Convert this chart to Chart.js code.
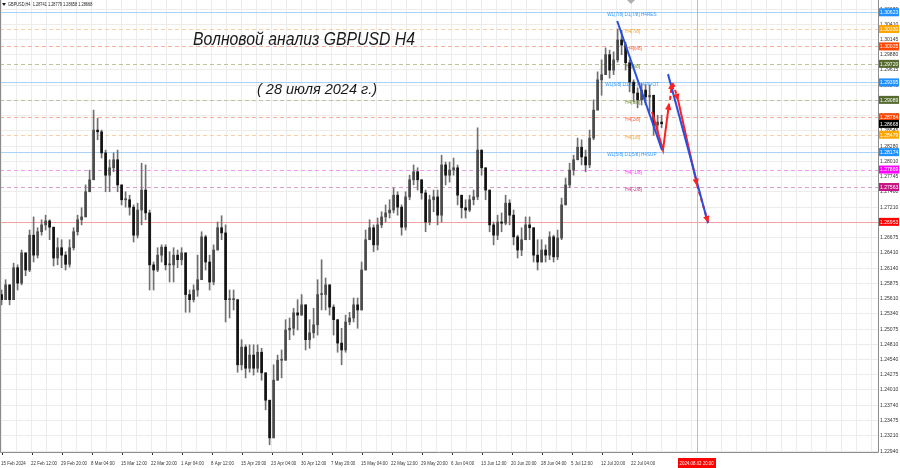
<!DOCTYPE html>
<html>
<head>
<meta charset="utf-8">
<script src="https://cdn.jsdelivr.net/npm/chart.js@4.4.1/dist/chart.umd.min.js"></script>
<style>
  html, body { margin: 0; padding: 0; background: #fff; }
</style>
</head>
<body>
<canvas id="chart" width="900" height="468"></canvas>
<script>
// GBPUSD H4, one candle per ~4 H4 bars
const closes = [1.2559,1.2585,1.2559,1.2615,1.2588,1.2641,1.2611,1.2672,1.2637,1.2678,1.2690,1.2697,1.2686,1.2632,1.2650,1.2637,1.2621,1.2650,1.2678,1.2699,
  1.2704,1.2748,1.2769,1.2856,1.2853,1.2816,1.2777,1.2790,1.2804,1.2760,1.2734,1.2734,1.2721,1.2672,1.2716,1.2751,1.2711,1.2620,1.2611,1.2637,
  1.2651,1.2620,1.2620,1.2637,1.2629,1.2641,1.2568,1.2559,1.2576,1.2594,1.2669,1.2625,1.2590,1.2646,1.2685,1.2676,1.2559,1.2559,1.2559,1.2445,
  1.2476,1.2439,1.2462,1.2439,1.2467,1.2431,1.2383,1.2317,1.2418,1.2453,1.2453,1.2506,1.2509,1.2536,1.2532,1.2550,1.2489,1.2501,1.2515,1.2568,
  1.2568,1.2585,1.2546,1.2524,1.2483,1.2471,1.2520,1.2527,1.2550,1.2541,1.2611,1.2664,1.2685,1.2655,1.2690,1.2704,1.2711,1.2716,1.2742,1.2721,
  1.2686,1.2739,1.2769,1.2783,1.2769,1.2746,1.2695,1.2734,1.2739,1.2707,1.2795,1.2777,1.2786,1.2790,1.2742,1.2720,1.2716,1.2734,1.2739,1.2821,
  1.2790,1.2751,1.2690,1.2672,1.2695,1.2693,1.2728,1.2707,1.2669,1.2646,1.2664,1.2690,1.2685,1.2637,1.2625,1.2646,1.2637,1.2669,1.2634,1.2667,
  1.2725,1.2760,1.2786,1.2804,1.2826,1.2809,1.2795,1.2842,1.2891,1.2944,1.2953,1.2988,1.2961,1.2979,1.3014,1.3005,1.2974,1.2940,1.2921,1.2909,
  1.2926,1.2914,1.2917,1.2865,1.2870,1.2867];
const highs = [1.2576,1.2594,1.2585,1.2623,1.2620,1.2646,1.2637,1.2681,1.2704,1.2685,1.2699,1.2707,1.2699,1.2685,1.2667,1.2664,1.2643,1.2664,1.2685,1.2707,
  1.2720,1.2760,1.2786,1.2891,1.2877,1.2856,1.2821,1.2804,1.2816,1.2821,1.2760,1.2748,1.2742,1.2725,1.2728,1.2798,1.2795,1.2716,1.2625,1.2650,
  1.2655,1.2655,1.2643,1.2650,1.2646,1.2650,1.2637,1.2576,1.2585,1.2637,1.2678,1.2672,1.2637,1.2655,1.2695,1.2706,1.2690,1.2576,1.2576,1.2559,
  1.2489,1.2480,1.2480,1.2480,1.2480,1.2474,1.2427,1.2375,1.2445,1.2462,1.2471,1.2524,1.2527,1.2544,1.2559,1.2568,1.2550,1.2524,1.2544,1.2594,
  1.2629,1.2597,1.2585,1.2550,1.2524,1.2509,1.2532,1.2537,1.2562,1.2562,1.2625,1.2681,1.2699,1.2690,1.2702,1.2713,1.2725,1.2734,1.2755,1.2748,
  1.2725,1.2748,1.2777,1.2795,1.2790,1.2769,1.2751,1.2742,1.2751,1.2751,1.2812,1.2800,1.2800,1.2807,1.2795,1.2742,1.2734,1.2742,1.2751,1.2860,
  1.2821,1.2790,1.2742,1.2695,1.2707,1.2711,1.2742,1.2734,1.2716,1.2672,1.2685,1.2704,1.2704,1.2678,1.2664,1.2664,1.2655,1.2678,1.2672,1.2681,
  1.2737,1.2772,1.2798,1.2812,1.2842,1.2839,1.2821,1.2856,1.2909,1.2958,1.2979,1.3000,1.2996,1.2993,1.3033,1.3031,1.3010,1.2979,1.2944,1.2930,
  1.2937,1.2935,1.2935,1.2909,1.2882,1.2882];
const lows = [1.2550,1.2572,1.2550,1.2568,1.2576,1.2585,1.2601,1.2608,1.2625,1.2632,1.2672,1.2681,1.2664,1.2618,1.2620,1.2615,1.2611,1.2616,1.2646,1.2672,
  1.2690,1.2707,1.2748,1.2804,1.2839,1.2807,1.2748,1.2748,1.2783,1.2748,1.2725,1.2721,1.2707,1.2660,1.2667,1.2690,1.2699,1.2576,1.2576,1.2608,
  1.2625,1.2611,1.2590,1.2590,1.2615,1.2620,1.2537,1.2537,1.2555,1.2565,1.2637,1.2611,1.2576,1.2585,1.2646,1.2664,1.2520,1.2527,1.2541,1.2432,
  1.2436,1.2422,1.2432,1.2427,1.2432,1.2418,1.2366,1.2305,1.2331,1.2427,1.2422,1.2457,1.2489,1.2497,1.2506,1.2532,1.2471,1.2474,1.2492,1.2497,
  1.2541,1.2541,1.2532,1.2497,1.2467,1.2445,1.2467,1.2515,1.2520,1.2509,1.2572,1.2615,1.2664,1.2643,1.2646,1.2685,1.2695,1.2702,1.2711,1.2707,
  1.2672,1.2681,1.2734,1.2760,1.2751,1.2735,1.2678,1.2690,1.2713,1.2690,1.2695,1.2760,1.2765,1.2777,1.2725,1.2702,1.2702,1.2713,1.2725,1.2734,
  1.2777,1.2734,1.2678,1.2655,1.2664,1.2678,1.2690,1.2690,1.2655,1.2632,1.2636,1.2664,1.2664,1.2625,1.2611,1.2625,1.2625,1.2629,1.2625,1.2629,
  1.2664,1.2725,1.2755,1.2777,1.2804,1.2795,1.2783,1.2790,1.2839,1.2900,1.2917,1.2953,1.2947,1.2953,1.2975,1.2988,1.2961,1.2923,1.2905,1.2895,
  1.2900,1.2900,1.2888,1.2847,1.2853,1.2860];
const firstOpen = 1.2568;

// right price scale
const yTicks = [1.30680,1.30410,1.30145,1.29880,1.29615,1.29345,1.29080,1.28815,1.28545,1.28280,1.28010,1.27745,1.27480,1.27210,1.26945,
  1.26675,1.26410,1.26140,1.25875,1.25610,1.25340,1.25075,1.24810,1.24540,1.24275,1.24010,1.23740,1.23475,1.23210,1.22940];
// time labels, one every 7.5 candles
const dateLabels = ['15 Feb 2024','22 Feb 12:00','29 Feb 20:00','8 Mar 04:00','15 Mar 12:00','22 Mar 20:00','1 Apr 04:00','8 Apr 12:00',
  '15 Apr 20:00','23 Apr 04:00','30 Apr 12:00','7 May 20:00','15 May 04:00','22 May 12:00','29 May 20:00','6 Jun 04:00','13 Jun 12:00',
  '20 Jun 20:00','28 Jun 04:00','5 Jul 12:00','12 Jul 20:00','22 Jul 04:00'];

// murrey / pivot levels
const levelPrices = [1.30623,1.30330,1.30025,1.29720,1.29395,1.29089,1.28784,1.28479,1.28174,1.27869,1.27563,1.26953];
const levelNames = ['W1[7/8] D1[7/8] H4RES','H4[7/8]','H4[6/8]','H4[5/8]','W1[6/8] D1[6/8] H4PIVOT','H4[3/8]','H4[2/8]','H4[1/8]',
  'W1[5/8] D1[5/8] H4SUP','H4[-1/8]','H4[-2/8]',''];
const lastPrice = 1.28668;
const headerText = 'GBPUSD,H4  1.28741 1.28779 1.28658 1.28668';

// forecast drawing, [candle, price]
const blueWave1 = [[153.9,1.3047],[165.1,1.2821]];
const blueWave2 = [[166.6,1.2954],[176.6,1.2693]];
const redWaveA = [[162.6,1.2888],[165.35,1.2821],[166.85,1.2902]];
const redWaveB = [[167.1,1.2909],[167.6,1.2938]];
const redWaveC = [[167.85,1.2938],[169.1,1.2909]];
const redWaveD = [[169.1,1.2909],[173.85,1.2760]];
const redWaveE = [[173.85,1.2760],[176.6,1.2695]];
const targetTime = 173.85;
const targetLabel = '2024.08.02 20:00';

// styles
const levelLine = ['#a9d2f8','#f9cfa5','#f7b09a','#c2c29a','#a9d2f8','#c2c29a','#f7b09a','#f9cfa5','#a9d2f8','#f39af3','#dba0c6','#f5a0a0'];
const levelDash = [false,true,true,true,false,true,true,true,false,true,true,false];
const levelText = ['#3399ff','#f5a030','#ff6040','#6b8e23','#3399ff','#6b8e23','#ff6040','#f5a030','#3399ff','#ff33ff','#c0308a',''];
const levelBox = ['#1e90ff','#ffa500','#ff4500','#556b2f','#1e90ff','#556b2f','#ff4500','#ffa500','#1e90ff','#ff00ff','#c71585','#ff0000'];
const levelTextX = [151.4,155.9,156.3,155.9,150.9,155.9,155.9,155.9,151.4,155.9,155.9,0];

const opens = closes.map((c, i) => i === 0 ? firstOpen : closes[i - 1]);
const wickData = closes.map((c, i) => ({x: i, y: [Math.min(lows[i], opens[i], c), Math.max(highs[i], opens[i], c)]}));
const bodyData = closes.map((c, i) => ({x: i, y: [opens[i], c]}));
const bodyColors = closes.map((c, i) => c >= opens[i] ? '#4a4a4a' : '#111111');

const pts = arr => arr.map(p => ({x: p[0], y: p[1]}));
const wave = (arr, color, dashed) => ({
  type: 'line', data: pts(arr), borderColor: color, borderWidth: 2, pointRadius: 0,
  borderDash: dashed ? [4, 3] : [], order: -1, tension: 0
});

const FONT = '"Liberation Sans", Arial, sans-serif';

// draw text squeezed horizontally by sx
const squeeze = (ctx, txt, px, py, sx) => {
  ctx.save(); ctx.translate(px, py); ctx.scale(sx, 1); ctx.fillText(txt, 0, 0); ctx.restore();
};

const mt4 = {
  id: 'mt4',
  beforeDatasetsDraw(chart) {
    const {ctx, chartArea: a, scales: {x, y}} = chart;
    ctx.save();
    levelPrices.forEach((p, i) => {
      const py = Math.round(y.getPixelForValue(p)) + 0.5;
      ctx.strokeStyle = levelLine[i];
      ctx.lineWidth = 1;
      ctx.setLineDash(levelDash[i] ? [4, 3] : []);
      ctx.beginPath(); ctx.moveTo(a.left, py); ctx.lineTo(a.right, py); ctx.stroke();
    });
    ctx.setLineDash([]);
    const tx = Math.round(x.getPixelForValue(targetTime)) + 0.5;
    ctx.strokeStyle = '#f7a3a3';
    ctx.beginPath(); ctx.moveTo(tx, a.top); ctx.lineTo(tx, a.bottom); ctx.stroke();
    ctx.font = '5.5px ' + FONT;
    ctx.textBaseline = 'middle';
    ctx.textAlign = 'left';
    levelNames.forEach((n, i) => {
      if (!n) return;
      ctx.fillStyle = levelText[i];
      squeeze(ctx, n, x.getPixelForValue(levelTextX[i]), y.getPixelForValue(levelPrices[i]) + 2.5, 0.85);
    });
    ctx.restore();
  },
  afterDatasetsDraw(chart) {
    const {ctx, scales: {x, y}} = chart;
    ctx.save();
    ctx.fillStyle = '#ff2020';
    [redWaveA, redWaveB, redWaveC, redWaveD, redWaveE].forEach(w => {
      const p1 = w[w.length - 2], p2 = w[w.length - 1];
      const x1 = x.getPixelForValue(p1[0]), y1 = y.getPixelForValue(p1[1]);
      const x2 = x.getPixelForValue(p2[0]), y2 = y.getPixelForValue(p2[1]);
      const ang = Math.atan2(y2 - y1, x2 - x1);
      ctx.save();
      ctx.translate(x2, y2); ctx.rotate(ang);
      ctx.beginPath(); ctx.moveTo(1, 0); ctx.lineTo(-6, -3.2); ctx.lineTo(-6, 3.2); ctx.closePath(); ctx.fill();
      ctx.restore();
    });
    ctx.restore();
  },
  afterDraw(chart) {
    const {ctx, chartArea: a, scales: {x, y}} = chart;
    ctx.save();
    // frame
    ctx.strokeStyle = '#8c8c8c';
    ctx.lineWidth = 1;
    ctx.beginPath();
    ctx.moveTo(a.left + 0.5, a.top); ctx.lineTo(a.left + 0.5, a.bottom + 0.5);
    ctx.lineTo(a.right + 0.5, a.bottom + 0.5); ctx.lineTo(a.right + 0.5, a.top);
    ctx.stroke();
    // price labels
    ctx.font = '5.5px ' + FONT;
    ctx.textBaseline = 'middle';
    ctx.textAlign = 'left';
    ctx.fillStyle = '#333';
    yTicks.forEach(v => squeeze(ctx, v.toFixed(5), a.right + 2, y.getPixelForValue(v), 0.92));
    const box = (v, col) => {
      const py = y.getPixelForValue(v);
      ctx.fillStyle = col;
      ctx.fillRect(a.right + 1, py - 4, 20, 8);
      ctx.fillStyle = '#fff';
      squeeze(ctx, v.toFixed(5), a.right + 2, py + 0.3, 0.92);
    };
    levelPrices.forEach((p, i) => box(p, levelBox[i]));
    box(lastPrice, '#000');
    // time labels
    ctx.fillStyle = '#333';
    dateLabels.forEach((d, k) => {
      const px = x.getPixelForValue(k * 7.5);
      squeeze(ctx, d, px - 0.5, a.bottom + 11, 0.8);
      ctx.fillRect(Math.round(px), a.bottom + 1, 1, 2);
    });
    const tx = x.getPixelForValue(targetTime);
    ctx.fillStyle = '#ff0000';
    ctx.fillRect(tx - 19, a.bottom + 6, 38, 10);
    ctx.fillStyle = '#fff';
    squeeze(ctx, targetLabel, tx - 17.5, a.bottom + 11, 0.8);
    // header
    ctx.fillStyle = '#222';
    ctx.font = '5px ' + FONT;
    ctx.beginPath(); ctx.moveTo(2, 3); ctx.lineTo(6, 3); ctx.lineTo(4, 6); ctx.closePath(); ctx.fill();
    squeeze(ctx, headerText, 8, 5, 0.78);
    // shift marker
    ctx.fillStyle = '#b0b0b0';
    ctx.beginPath(); ctx.moveTo(627, 0); ctx.lineTo(635, 0); ctx.lineTo(631, 4); ctx.closePath(); ctx.fill();
    // title
    const fit = (txt, cx, cy, w) => {
      const m = ctx.measureText(txt).width;
      ctx.save(); ctx.translate(cx, cy); ctx.scale(w / m, 1); ctx.fillText(txt, 0, 0); ctx.restore();
    };
    ctx.fillStyle = '#1a1a1a';
    ctx.textAlign = 'center';
    ctx.textBaseline = 'alphabetic';
    ctx.font = 'italic 19px ' + FONT;
    fit('Волновой анализ GBPUSD H4', 304, 45, 222);
    ctx.font = 'italic 14px ' + FONT;
    fit('( 28 июля 2024 г.)', 317, 94, 120);
    ctx.restore();
  }
};

new Chart(document.getElementById('chart'), {
  type: 'bar',
  data: {
    datasets: [
      wave(blueWave1, '#2a4fe0', false),
      wave(blueWave2, '#2a4fe0', false),
      wave(redWaveA, '#ff2020', false),
      wave(redWaveB, '#ff2020', true),
      wave(redWaveC, '#ff2020', true),
      wave(redWaveD, '#ff2020', false),
      wave(redWaveE, '#ff2020', true),
      {data: bodyData, backgroundColor: bodyColors, borderWidth: 0, barThickness: 2, grouped: false, minBarLength: 1},
      {data: wickData, backgroundColor: '#707070', barThickness: 1, grouped: false}
    ]
  },
  options: {
    responsive: false,
    animation: false,
    events: [],
    layout: {padding: 0},
    plugins: {legend: {display: false}, tooltip: {enabled: false}},
    scales: {
      x: {
        type: 'linear', min: -0.4, max: 219.1, offset: false,
        grid: {color: '#ececec', drawTicks: false, offset: false},
        border: {display: false},
        ticks: {display: false},
        afterBuildTicks: s => {
          const t = [];
          for (let v = 0; v <= 219; v += 3.75) t.push({value: v});
          s.ticks = t;
        },
        afterFit: s => { s.height = 16; }
      },
      y: {
        type: 'linear', position: 'right', min: 1.22923, max: 1.30838,
        grid: {color: '#ececec', drawTicks: false},
        border: {display: false},
        ticks: {display: false},
        afterBuildTicks: s => { s.ticks = yTicks.map(v => ({value: v})); },
        afterFit: s => { s.width = 22; }
      }
    }
  },
  plugins: [mt4]
});
</script>
</body>
</html>
